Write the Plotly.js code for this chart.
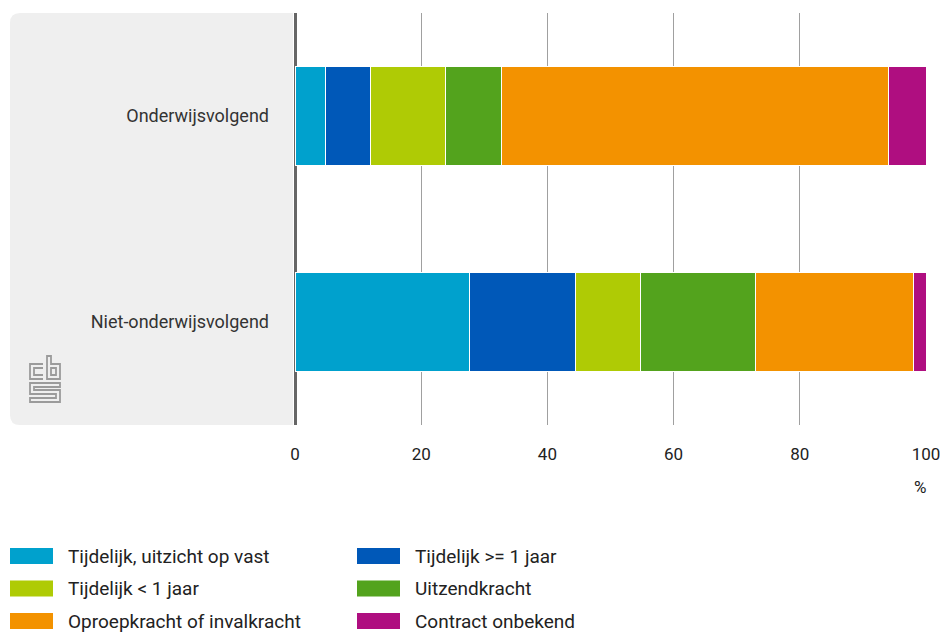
<!DOCTYPE html>
<html>
<head>
<meta charset="utf-8">
<script src="https://cdn.plot.ly/plotly-3.0.1.min.js"></script>
<style>html,body{margin:0;padding:0;background:#fff}#chart{width:943px;height:633px}</style>
</head>
<body>
<div id="chart"></div>
<script>
// ---- data ----
const categories = ["Onderwijsvolgend", "Niet-onderwijsvolgend"];
const seriesNames = [
  "Tijdelijk, uitzicht op vast",
  "Tijdelijk >= 1 jaar",
  "Tijdelijk < 1 jaar",
  "Uitzendkracht",
  "Oproepkracht of invalkracht",
  "Contract onbekend"
];
const tijdelijkUitzicht = [4.9, 27.6];
const tijdelijkLang = [7.1, 16.9];
const tijdelijkKort = [11.9, 10.2];
const uitzendkracht = [8.8, 18.2];
const oproepkracht = [61.3, 25.1];
const onbekend = [6.0, 2.0];
const xTicks = [0, 20, 40, 60, 80, 100];
const unitLabel = "%";

const seriesValues = [tijdelijkUitzicht, tijdelijkLang, tijdelijkKort, uitzendkracht, oproepkracht, onbekend];
const colors = ["#00A1CD", "#0058B8", "#AFCB05", "#53A31D", "#F39200", "#AF0E80"];

// ---- geometry helpers ----
const W = 943, H = 633;
const mL = 295, mR = 17, mT = 13, mB = 208;
const pw = W - mL - mR, ph = H - mT - mB;
const px = x => (x - mL) / pw;
const py = y => (H - mB - y) / ph;

const traces = seriesNames.map((n, i) => ({
  type: "bar", orientation: "h", name: n,
  y: categories, x: seriesValues[i],
  marker: {color: colors[i], line: {color: "#ffffff", width: 1}},
  showlegend: false, hoverinfo: "x+name"
}));

const shapes = [];
const annotations = [];

// grey panel with rounded left corners
(function(){
  const x0 = 10, x1 = 293, y0 = 13, y1 = 425, r = 10;
  const P = (x, y) => px(x) + "," + py(y);
  const path = "M" + P(x1, y0) + " L" + P(x0 + r, y0) + " Q" + P(x0, y0) + " " + P(x0, y0 + r) +
    " L" + P(x0, y1 - r) + " Q" + P(x0, y1) + " " + P(x0 + r, y1) + " L" + P(x1, y1) + " Z";
  shapes.push({type: "path", xref: "paper", yref: "paper", path: path,
    fillcolor: "#EFEFEF", line: {width: 0}, layer: "below"});
})();

// CBS logo (approximation)
(function(){
  const P = (x, y) => px(x) + "," + py(y);
  const paths = [
    "M" + P(43, 364) + " L" + P(30, 364) + " L" + P(30, 379) + " L" + P(43, 379),
    "M" + P(43, 368) + " L" + P(34, 368) + " L" + P(34, 375) + " L" + P(43, 375),
    "M" + P(47, 356) + " L" + P(47, 379) + " L" + P(60, 379) + " L" + P(60, 364) + " L" + P(51, 364) + " L" + P(51, 356) + " Z",
    "M" + P(51, 368) + " L" + P(56, 368) + " L" + P(56, 375) + " L" + P(51, 375) + " Z",
    "M" + P(60, 383) + " L" + P(30, 383) + " L" + P(30, 394) + " L" + P(56, 394) + " L" + P(56, 398) + " L" + P(30, 398) + " L" + P(30, 402) + " L" + P(60, 402) + " L" + P(60, 390) + " L" + P(34, 390) + " L" + P(34, 387) + " L" + P(60, 387) + " Z"
  ];
  paths.forEach(p => shapes.push({type: "path", xref: "paper", yref: "paper", path: p,
    line: {color: "#9B9B9B", width: 1.8}, fillcolor: "rgba(0,0,0,0)", layer: "above"}));
})();

// manual legend built from series arrays
seriesNames.forEach((n, i) => {
  const col = i % 2, row = Math.floor(i / 2);
  const sx = col === 0 ? 10 : 357;
  const cy = 556 + row * 32.5;
  shapes.push({type: "rect", xref: "paper", yref: "paper",
    x0: px(sx), x1: px(sx + 43), y0: py(cy - 8), y1: py(cy + 8),
    fillcolor: colors[i], line: {width: 0}});
  annotations.push({xref: "paper", yref: "paper", x: px(sx + 56), y: py(cy),
    xanchor: "left", yanchor: "middle", text: n, showarrow: false,
    font: {family: "Roboto, sans-serif", size: 19, color: "#222"}});
});

annotations.push({xref: "paper", yref: "paper", x: px(920), y: py(487),
  xanchor: "center", yanchor: "middle", text: unitLabel, showarrow: false,
  font: {family: "Roboto, sans-serif", size: 17, color: "#222"}});

const layout = {
  width: W, height: H,
  margin: {l: mL, r: mR, t: mT, b: mB, pad: 0},
  paper_bgcolor: "#ffffff", plot_bgcolor: "rgba(0,0,0,0)",
  barmode: "stack", bargap: 0.515,
  font: {family: "Roboto, sans-serif", color: "#222"},
  xaxis: {
    range: [0, 100], tickvals: xTicks, ticktext: xTicks.map(String),
    showgrid: true, gridcolor: "#A0A0A0", gridwidth: 1,
    zeroline: true, zerolinecolor: "#666666", zerolinewidth: 3,
    showline: false, ticks: "", ticklabelstandoff: 17,
    tickfont: {family: "Roboto, sans-serif", size: 17, color: "#222"},
    fixedrange: true
  },
  yaxis: {
    autorange: "reversed", type: "category",
    showgrid: false, zeroline: false, showline: false, ticks: "",
    ticklabelstandoff: 25,
    tickfont: {family: "Roboto, sans-serif", size: 18, color: "#333"},
    fixedrange: true
  },
  shapes: shapes,
  annotations: annotations,
  showlegend: false
};

Plotly.newPlot("chart", traces, layout, {displayModeBar: false, staticPlot: true});
</script>
</body>
</html>
